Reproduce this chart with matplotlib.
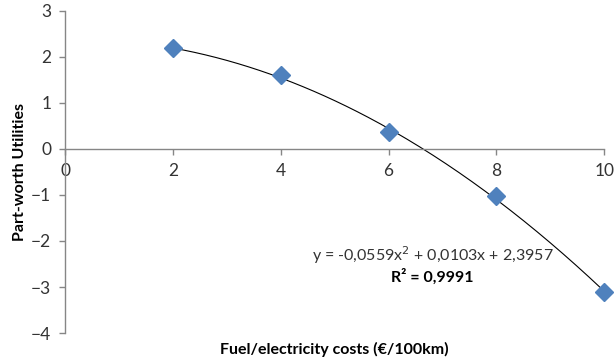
import numpy as np
import matplotlib.pyplot as plt

# fuel / electricity cost levels and their part-worth utilities
costs = [2, 4, 6, 8, 10]
utilities = [2.2, 1.61, 0.37, -1.02, -3.1]

# quadratic trendline coefficients (a*x^2 + b*x + c)
coef_a = -0.0559
coef_b = 0.0103
coef_c = 2.3957
r_squared = "0,9991"

x_ticks = [0, 2, 4, 6, 8, 10]
y_ticks = [-4, -3, -2, -1, 0, 1, 2, 3]

plt.rcParams['font.family'] = ['Lato', 'DejaVu Sans']

fig = plt.figure(figsize=(6.14, 3.62), dpi=100)
ax = fig.add_axes([0.106, 0.080, 0.878, 0.890])

xs = np.linspace(costs[0], costs[-1], 200)
trend = coef_a * xs ** 2 + coef_b * xs + coef_c
ax.plot(xs, trend, color="black", linewidth=0.8, zorder=2)
ax.plot(costs, utilities, linestyle="none", marker="D", markersize=9,
        color="#4F81BD", markeredgecolor="#4F81BD", zorder=3, clip_on=False)

ax.set_xlim(0, 10)
ax.set_ylim(-4, 3)
ax.set_xticks(x_ticks)
ax.set_yticks(y_ticks)

# Excel-like axes crossing at the origin
for side in ["top", "right"]:
    ax.spines[side].set_visible(False)
ax.spines["left"].set_position(("data", 0))
ax.spines["bottom"].set_position(("data", 0))
for side in ["left", "bottom"]:
    ax.spines[side].set_color("#868686")
    ax.spines[side].set_linewidth(1.0)

ax.tick_params(axis="both", colors="#868686", length=4, width=1.0,
               labelcolor="#333333", labelsize=12.5)
ax.tick_params(axis="x", pad=6)
ax.tick_params(axis="y", pad=6)

fig.text(0.033, 0.525, "Part-worth Utilities", rotation=90, ha="center",
         va="center", fontsize=11.5, fontweight="bold", color="black")
fig.text(0.545, 0.035, "Fuel/electricity costs (€/100km)", ha="center",
         va="center", fontsize=11.5, fontweight="bold", color="black")

eq = "y = -0,0559x$^2$ + 0,0103x + 2,3957"
ax.text(6.82, -2.31, eq, ha="center", va="center", fontsize=11.5, color="#333333")
ax.text(6.82, -2.78, "R² = " + r_squared, ha="center", va="center",
        fontsize=11.5, fontweight="bold", color="black")

fig.savefig("out.png", dpi=100)
